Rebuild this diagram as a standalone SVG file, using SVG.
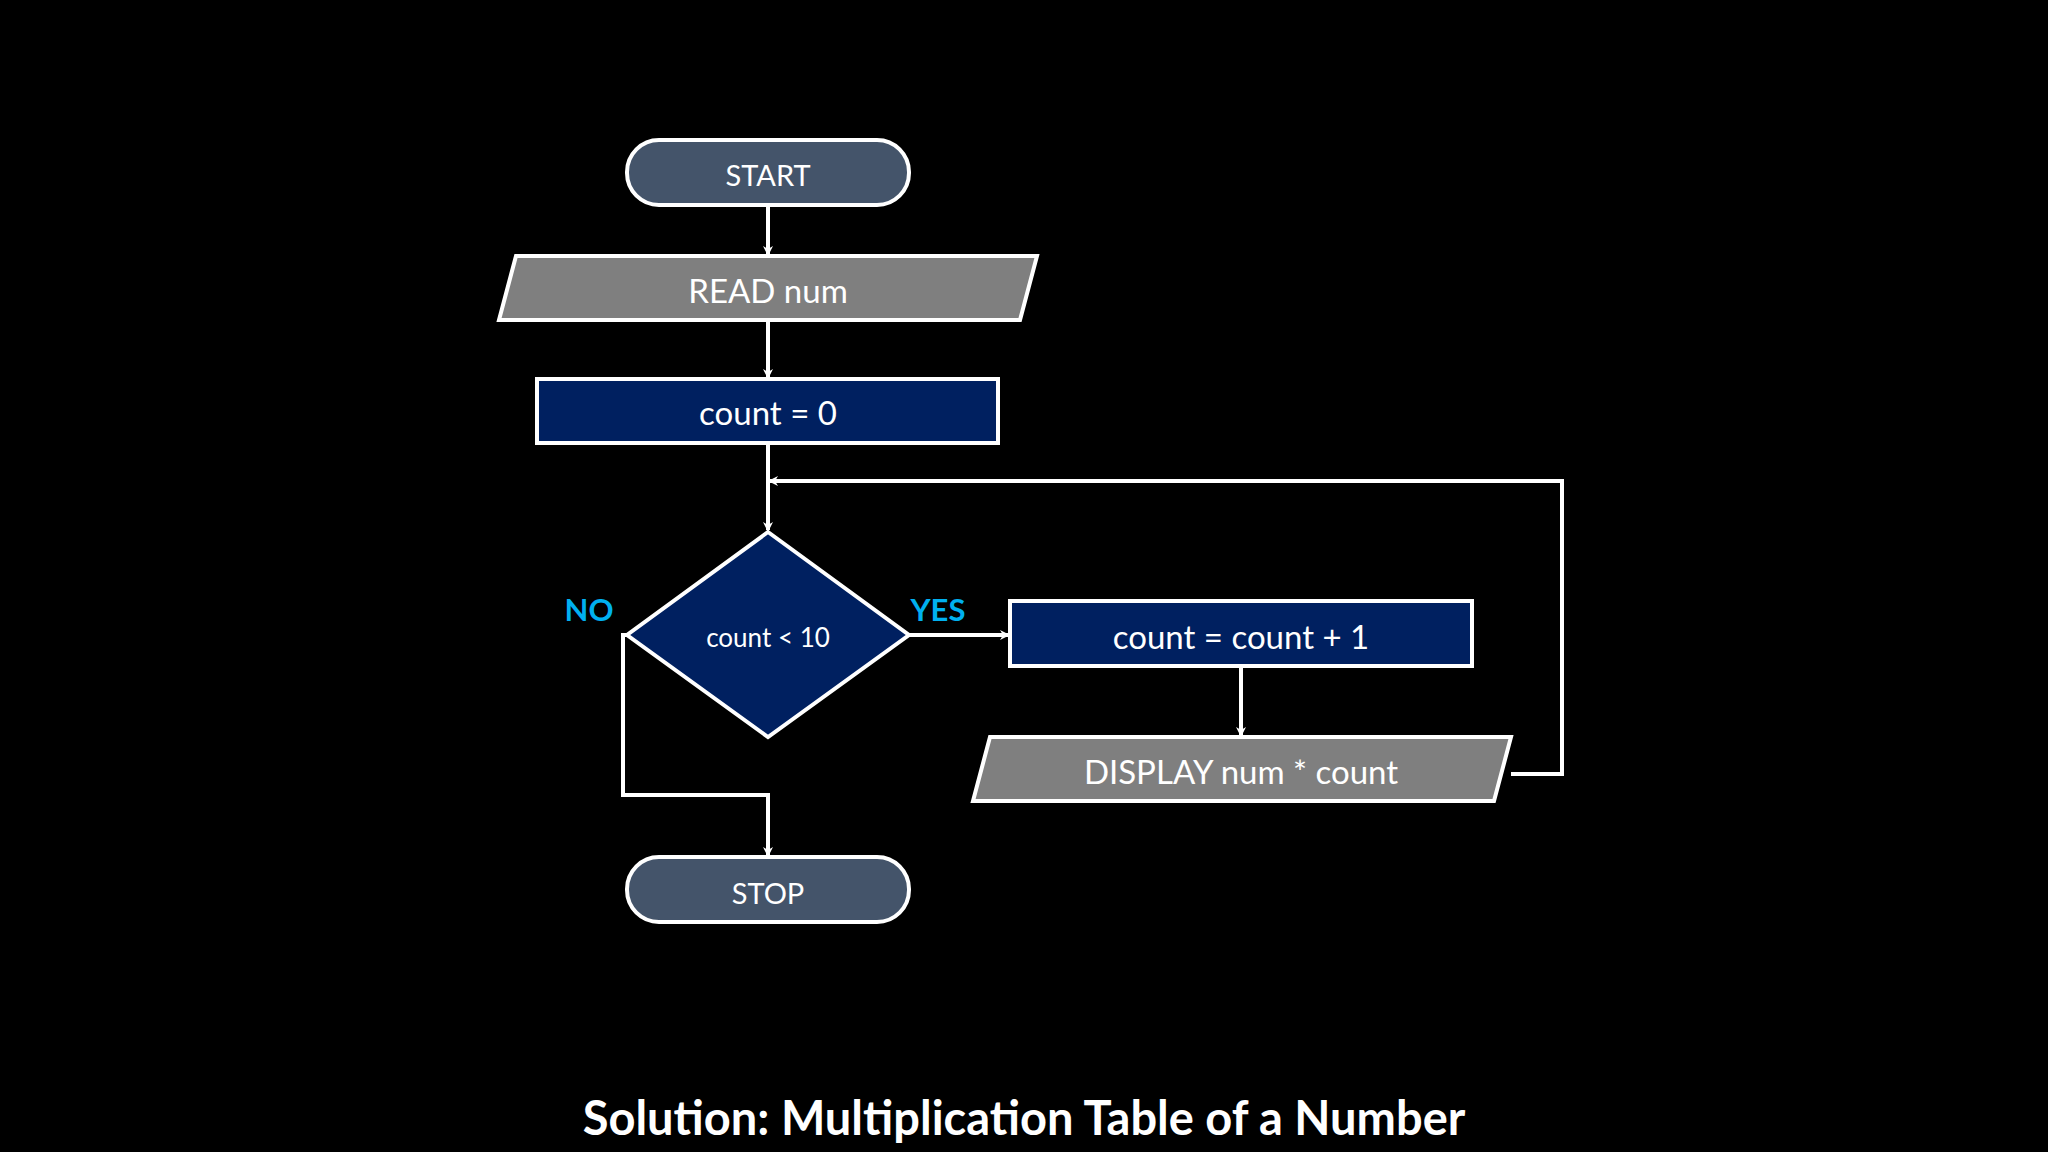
<svg xmlns="http://www.w3.org/2000/svg" width="2048" height="1152" viewBox="0 0 2048 1152">
<defs>
<marker id="ah" markerWidth="10" markerHeight="10" refX="8" refY="5" orient="auto" markerUnits="userSpaceOnUse"><path d="M0,0 L10,5 L0,10 L3,5 Z" fill="#fff"/></marker>
<style>
.s{stroke:#fff;stroke-width:4}
.t{fill:#fff;font-family:Lato,"Liberation Sans",sans-serif;text-anchor:middle;dominant-baseline:central}
.c{fill:none;stroke:#fff;stroke-width:4;marker-end:url(#ah)}
.l{fill:#00b0f0;font-family:Lato,"Liberation Sans",sans-serif;font-weight:bold;font-size:31px;text-anchor:middle;dominant-baseline:central}
</style>
</defs>
<rect width="2048" height="1152" fill="#000"/>
<g id="connectors">
<path class="c" d="M768,205 V254"/>
<path class="c" d="M768,320 V377"/>
<path class="c" d="M768,443 V530"/>
<path class="c" d="M909,635 H1008"/>
<path class="c" d="M1241,666 V735"/>
<path class="c" d="M1511,774 H1562 V481 H770"/>
<path class="c" d="M627,635 H623 V795 H768 V855"/>
</g>
<g id="start"><rect class="s" x="627" y="140" width="282" height="65" rx="32" fill="#44546a"/><text class="t" x="768" y="174" font-size="29">START</text></g>
<g id="read"><polygon class="s" points="516,256 1037,256 1020,320 499,320" fill="#7f7f7f"/><text class="t" x="768" y="290" font-size="33">READ num</text></g>
<g id="init"><rect class="s" x="537" y="379" width="461" height="64" fill="#002060"/><text class="t" x="768" y="412" font-size="33">count = 0</text></g>
<g id="decision"><polygon class="s" points="768,532 909,635 768,737 627,635" fill="#002060"/><text class="t" x="768" y="637" font-size="26">count &lt; 10</text></g>
<text class="l" x="589" y="609">NO</text>
<text class="l" x="938" y="609">YES</text>
<g id="inc"><rect class="s" x="1010" y="601" width="462" height="65" fill="#002060"/><text class="t" x="1241" y="636" font-size="33">count = count + 1</text></g>
<g id="display"><polygon class="s" points="990,737 1511,737 1494,801 973,801" fill="#7f7f7f"/><text class="t" x="1241" y="771" font-size="33">DISPLAY num * count</text></g>
<g id="stop"><rect class="s" x="627" y="857" width="282" height="65" rx="32" fill="#44546a"/><text class="t" x="768" y="892" font-size="29">STOP</text></g>
<text class="t" x="1024" y="1117" font-size="47" font-weight="bold">Solution: Multiplication Table of a Number</text>
</svg>
